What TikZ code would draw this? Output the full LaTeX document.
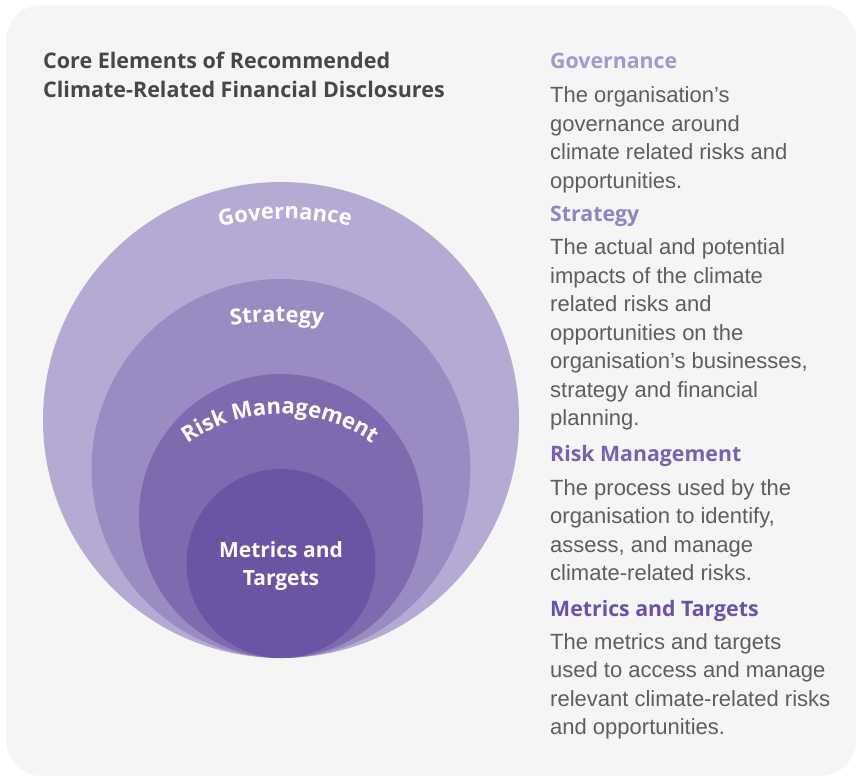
\documentclass[tikz,border=0pt]{standalone}
\usepackage{fontspec}
\setmainfont{Open Sans}
\newfontfamily\headfont{Open Sans}
\newfontfamily\bodyfont{Liberation Sans}
\usetikzlibrary{decorations.text}

\definecolor{panelbg}{HTML}{F5F5F5}
\definecolor{ringgov}{HTML}{B5AAD4}
\definecolor{ringstr}{HTML}{9A8CC3}
\definecolor{ringrisk}{HTML}{7F6AB0}
\definecolor{ringmet}{HTML}{6A54A3}
\definecolor{titlegrey}{HTML}{474747}
\definecolor{bodygrey}{HTML}{5E5E5E}
\definecolor{headgov}{HTML}{A597CF}
\definecolor{headstr}{HTML}{9283C1}
\definecolor{headrisk}{HTML}{7A62B0}
\definecolor{headmet}{HTML}{6B52A8}

\begin{document}
\begin{tikzpicture}[x=1pt,y=1pt,
  titletext/.style={anchor=base west, inner sep=0pt,
    font=\headfont\bfseries\fontsize{21.5}{29}\selectfont, text=titlegrey},
  heading/.style={anchor=base west, inner sep=0pt,
    font=\headfont\bfseries\fontsize{21.3}{25}\selectfont},
  body/.style={anchor=base west, inner sep=0pt,
    font=\bodyfont\fontsize{22}{28.5}\selectfont, text=bodygrey},
  ringlabel/.style={inner sep=0pt, text=white,
    font=\headfont\bfseries\fontsize{21}{28}\selectfont},
  arclabel/.style={decorate, decoration={text along path, text align=center,
    text={|\headfont\bfseries\fontsize{22}{24}\selectfont\color{white}|#1}}}
]
\useasboundingbox (0,0) rectangle (861,780);
\fill[white] (0,0) rectangle (861,780);
\fill[panelbg, rounded corners=36pt] (6,4) rectangle (856,775);

% title
\node[titletext] (title1) at (43,711) {Core Elements of Recommended};
\node[titletext] (title2) at (43,682) {Climate-Related Financial Disclosures};

% nested rings, all touching at the bottom
\fill[ringgov]  (281,360)   circle[radius=238];
\fill[ringstr]  (281,311.5) circle[radius=189.5];
\fill[ringrisk] (281,264)   circle[radius=142];
\fill[ringmet]  (281,216.5) circle[radius=94.5];

% curved ring labels
\path[arclabel=Governance] ([shift={(115:300)}]285,261) arc[start angle=115, end angle=65, radius=300];
\path[arclabel=Strategy] ([shift={(110:330)}]277,128) arc[start angle=110, end angle=70, radius=330];
\path[arclabel=Risk Management] ([shift={(155:160)}]280,206) arc[start angle=155, end angle=25, radius=160];

\node[ringlabel, anchor=base] (metlabel) at (281,223)
  {\begin{tabular}[t]{@{}c@{}}Metrics and\\Targets\end{tabular}};

% descriptions
\node[heading, text=headgov] (govhead) at (550,711) {Governance};
\node[body] (govtext) at (550,677) {\begin{tabular}[t]{@{}l@{}}
  The organisation’s\\ governance around\\ climate related risks and\\ opportunities.\end{tabular}};

\node[heading, text=headstr] (strhead) at (550,558) {Strategy};
\node[body] (strtext) at (550,525) {\begin{tabular}[t]{@{}l@{}}
  The actual and potential\\ impacts of the climate\\ related risks and\\ opportunities on the\\
  organisation’s businesses,\\ strategy and financial\\ planning.\end{tabular}};

\node[heading, text=headrisk] (riskhead) at (550,319) {Risk Management};
\node[body] (risktext) at (550,285) {\begin{tabular}[t]{@{}l@{}}
  The process used by the\\ organisation to identify,\\ assess, and manage\\ climate-related risks.\end{tabular}};

\node[heading, text=headmet] (methead) at (550,164) {Metrics and Targets};
\node[body] (mettext) at (550,131) {\begin{tabular}[t]{@{}l@{}}
  The metrics and targets\\ used to access and manage\\ relevant climate-related risks\\ and opportunities.\end{tabular}};
\end{tikzpicture}
\end{document}
